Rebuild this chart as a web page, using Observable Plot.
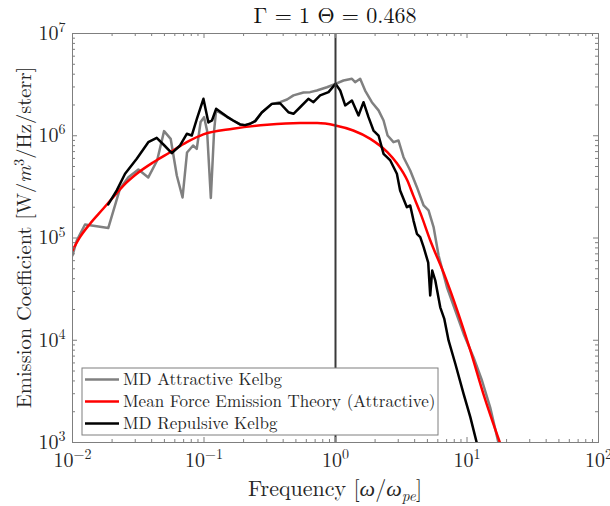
<!DOCTYPE html>
<html><head><meta charset="utf-8">
<script src="https://cdn.jsdelivr.net/npm/d3@7"></script>
<script src="https://cdn.jsdelivr.net/npm/@observablehq/plot@0.6"></script>
<style>body{margin:0;background:#fff}</style>
</head><body><div id="chart"></div>
<script>
// ---- data ----
const freqAttractive = [0.01,0.01077,0.01245,0.01528,0.0187,0.0230,0.0266,0.0317,0.0377,0.0440,0.0497,0.0558,0.0621,0.0687,0.0743,0.0826,0.0881,0.0942,0.1002,0.1055,0.1127,0.1194,0.1236,0.149,0.1665,0.188,0.2054,0.224,0.245,0.275,0.328,0.379,0.428,0.479,0.571,0.641,0.721,0.860,1.0,1.15,1.333,1.41,1.54,1.68,1.89,2.125,2.32,2.49,2.76,3.01,3.29,3.70,4.16,4.68,5.10,5.57,6.08,7.04,8.15,9.42,11.2,13.0,15.0,17.4];
const emisAttractive = [6.74e4,9.46e4,1.355e5,1.30e5,1.25e5,3.05e5,3.93e5,4.68e5,3.91e5,5.73e5,1.11e6,9.33e5,4.09e5,2.49e5,6.86e5,8.03e5,7.45e5,1.36e6,1.52e6,1.125e6,2.46e5,1.125e6,1.77e6,1.54e6,1.41e6,1.29e6,1.27e6,1.31e6,1.39e6,1.69e6,2.05e6,2.13e6,2.26e6,2.48e6,2.65e6,2.67e6,2.77e6,2.98e6,3.22e6,3.47e6,3.61e6,3.34e6,3.61e6,2.77e6,2.13e6,1.77e6,1.41e6,1.005e6,8.65e5,8.99e5,6.17e5,4.57e5,3.14e5,2.08e5,1.86e5,1.28e5,6.74e4,3.30e4,1.95e4,1.16e4,6.83e3,4.04e3,2.21e3,977];

const freqTheory = [0.01,0.0114,0.0136,0.0171,0.0204,0.0244,0.0308,0.0412,0.0552,0.074,0.0989,0.166,0.302,0.538,0.726,1.0,1.365,1.84,2.48,2.95,3.52,3.90,4.41,5.26,6.84,8.44,10.6,13.3,17.9];
const emisTheory = [7.55e4,1.02e5,1.38e5,1.93e5,2.51e5,3.26e5,4.25e5,5.51e5,6.9e5,8.65e5,1.03e6,1.17e6,1.28e6,1.33e6,1.33e6,1.26e6,1.125e6,9.33e5,6.9e5,5.32e5,3.65e5,2.61e5,1.77e5,9.46e4,4.14e4,1.95e4,7.94e3,3.01e3,977];

const freqRepulsive = [0.0187,0.0217,0.0251,0.0308,0.0377,0.0437,0.0500,0.0569,0.0658,0.0740,0.0807,0.0885,0.0990,0.108,0.115,0.1236,0.149,0.1665,0.188,0.2054,0.224,0.245,0.275,0.328,0.379,0.438,0.479,0.538,0.622,0.680,0.764,0.885,1.0,1.086,1.185,1.333,1.496,1.633,1.782,1.945,2.125,2.32,2.61,2.93,3.10,3.49,3.70,3.92,4.16,4.41,4.68,5.07,5.25,5.44,5.74,6.26,6.71,7.24,8.15,9.42,10.6,11.9];
const emisRepulsive = [2.13e5,2.92e5,4.25e5,5.95e5,8.65e5,9.55e5,8.03e5,6.75e5,8.03e5,1.045e6,1.005e6,1.475e6,2.30e6,1.35e6,1.41e6,1.835e6,1.54e6,1.41e6,1.29e6,1.27e6,1.31e6,1.39e6,1.69e6,2.05e6,2.08e6,1.70e6,1.64e6,1.90e6,2.30e6,2.13e6,2.48e6,2.67e6,3.22e6,2.77e6,1.98e6,2.21e6,1.58e6,2.13e6,1.52e6,1.125e6,1.005e6,6.66e5,5.73e5,4.25e5,2.92e5,2.00e5,2.08e5,1.48e5,1.10e5,1.02e5,8.13e4,5.75e4,2.74e4,4.81e4,3.84e4,2.10e4,1.63e4,9.95e3,5.89e3,2.99e3,1.77e3,977];

const plasmaFreq = [1];
const xTicks = [0.01, 0.1, 1, 10, 100];
const yTicks = [1e3, 1e4, 1e5, 1e6, 1e7];
const seriesNames = ["MD Attractive Kelbg", "Mean Force Emission Theory (Attractive)", "MD Repulsive Kelbg"];
const seriesColors = ["#808080", "#ff0000", "#000000"];
const titleText = "Γ = 1 Θ = 0.468";

// ---- layout ----
const FONT = "'Latin Modern Roman', 'Liberation Serif'";
const W = 610, H = 506, mL = 72, mR = 12, mT = 33, mB = 64;
const innerW = W - mL - mR, innerH = H - mT - mB;
const tickColor = "#7f7f7f";

const rows = (xs, ys) => xs.map((f, i) => ({f, e: ys[i]}));
const minorOf = (majors) => {
  const out = [];
  for (let i = 0; i < majors.length - 1; i++) for (let m = 2; m <= 9; m++) out.push(m * majors[i]);
  return out;
};
const xMinor = minorOf(xTicks), yMinor = minorOf(yTicks);
const fmt = d => "10^" + String(Math.round(Math.log10(d))).replace("-", "\u2212");

const plot = Plot.plot({
  width: W, height: H,
  marginLeft: mL, marginRight: mR, marginTop: mT, marginBottom: mB,
  style: {fontFamily: FONT, color: "#262626", background: "white"},
  x: {type: "log", domain: [0.01, 100], label: null},
  y: {type: "log", domain: [1e3, 1e7], label: null},
  marks: [
    Plot.line(rows(freqAttractive, emisAttractive), {x: "f", y: "e", stroke: seriesColors[0], strokeWidth: 2.5, clip: true}),
    Plot.line(rows(freqTheory, emisTheory), {x: "f", y: "e", stroke: seriesColors[1], strokeWidth: 2.5, clip: true, curve: "monotone-x"}),
    Plot.line(rows(freqRepulsive, emisRepulsive), {x: "f", y: "e", stroke: seriesColors[2], strokeWidth: 2.5, clip: true}),
    Plot.ruleX(plasmaFreq, {stroke: "#3a3a3a", strokeWidth: 2}),
    Plot.ruleX(xTicks, {stroke: tickColor, insetTop: innerH - 5}),
    Plot.ruleX(xTicks, {stroke: tickColor, insetBottom: innerH - 5}),
    Plot.ruleX(xMinor, {stroke: tickColor, insetTop: innerH - 3}),
    Plot.ruleX(xMinor, {stroke: tickColor, insetBottom: innerH - 3}),
    Plot.ruleY(yTicks, {stroke: tickColor, insetRight: innerW - 5}),
    Plot.ruleY(yTicks, {stroke: tickColor, insetLeft: innerW - 5}),
    Plot.ruleY(yMinor, {stroke: tickColor, insetRight: innerW - 3}),
    Plot.ruleY(yMinor, {stroke: tickColor, insetLeft: innerW - 3}),
    Plot.frame({stroke: tickColor}),
    Plot.axisX({ticks: xTicks, anchor: "bottom", tickSize: 0, tickPadding: 10, tickFormat: fmt, fontSize: 20, label: null}),
    Plot.axisY({ticks: yTicks, anchor: "left", tickSize: 0, tickPadding: 7, tickFormat: fmt, fontSize: 20, label: null})
  ]
});

document.getElementById("chart").appendChild(plot);
const svg = d3.select(plot);
svg.attr("font-family", FONT);

// superscript exponents in tick labels
svg.selectAll("text").each(function() {
  const m = /^10\^(.+)$/.exec(this.textContent);
  if (!m) return;
  const t = d3.select(this);
  t.text("");
  t.append("tspan").text("10");
  t.append("tspan").attr("dy", "-0.55em").attr("font-size", "0.7em").text(m[1]);
});

// title
svg.append("text").attr("x", mL + innerW / 2).attr("y", 23)
  .attr("text-anchor", "middle").attr("font-size", 22).attr("fill", "#111").text(titleText);

// x label
const xl = svg.append("text").attr("x", mL + innerW / 2).attr("y", 496)
  .attr("text-anchor", "middle").attr("font-size", 22).attr("fill", "#262626");
xl.append("tspan").text("Frequency [");
xl.append("tspan").attr("font-style", "italic").text("ω");
xl.append("tspan").text("/");
xl.append("tspan").attr("font-style", "italic").text("ω");
xl.append("tspan").attr("font-style", "italic").attr("font-size", "0.7em").attr("dy", "0.3em").text("pe");
xl.append("tspan").attr("dy", "-0.21em").text("]");

// y label
const yl = svg.append("text").attr("transform", `translate(24,${mT + innerH / 2}) rotate(-90)`)
  .attr("text-anchor", "middle").attr("dy", "0.35em").attr("font-size", 20.5).attr("fill", "#262626");
yl.append("tspan").text("Emission Coefficient [W/");
yl.append("tspan").attr("font-style", "italic").text("m");
yl.append("tspan").attr("font-size", "0.7em").attr("dy", "-0.5em").text("3");
yl.append("tspan").attr("dy", "0.35em").text("/Hz/sterr]");

// legend
const lg = svg.append("g");
const lx = 82, ly = 368, lw = 356, lh = 67;
lg.append("rect").attr("x", lx).attr("y", ly).attr("width", lw).attr("height", lh)
  .attr("fill", "white").attr("stroke", "#7f7f7f").attr("stroke-width", 1);
seriesNames.forEach((name, i) => {
  const cy = ly + 11.5 + i * 22;
  lg.append("line").attr("x1", lx + 3).attr("x2", lx + 37).attr("y1", cy).attr("y2", cy)
    .attr("stroke", seriesColors[i]).attr("stroke-width", 2.5);
  lg.append("text").attr("x", lx + 41).attr("y", cy).attr("dy", "0.33em").attr("text-anchor", "start")
    .attr("font-size", 17).attr("fill", "#262626").text(name);
});

// force the serif family on every text element
svg.selectAll("text").attr("font-family", FONT).style("font-family", FONT);
</script>
</body></html>
